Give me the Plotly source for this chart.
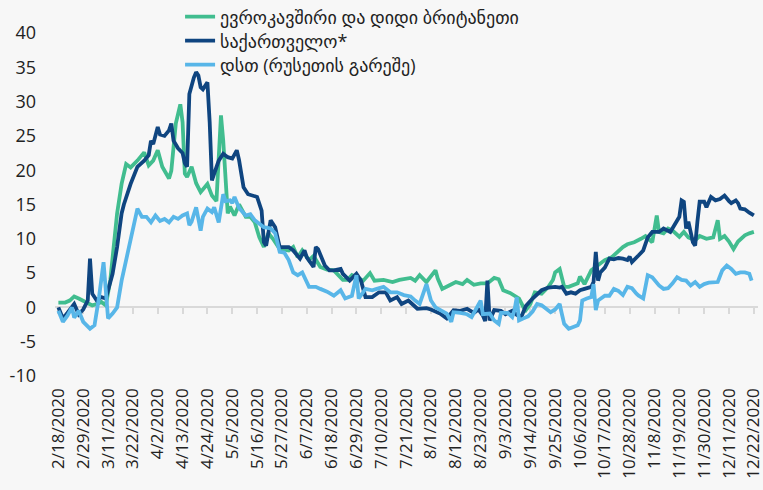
import pandas as pd
import plotly.graph_objects as go

START = "2020-02-18"

series_names = [
    "ევროკავშირი და დიდი ბრიტანეთი",
    "საქართველო*",
    "დსთ (რუსეთის გარეშე)",
]

# days since 2020-02-18 and values
eu_days = [0, 3, 5, 7, 9, 11, 13, 15, 17, 19, 21, 23, 26, 28, 30, 32, 35, 38, 40, 42,
           44, 46, 49, 50, 52, 54, 55, 56, 57, 59, 61, 63, 66, 68, 70, 72, 73, 75, 76, 78,
           80, 83, 85, 87, 89, 91, 93, 95, 98, 102, 104, 106, 108, 111, 113, 116, 119, 122, 124, 126,
           128, 130, 132, 135, 138, 140, 144, 148, 151, 154, 156, 158, 160, 163, 167, 168, 170, 173, 176, 179,
           181, 184, 187, 190, 193, 195, 197, 200, 202, 204, 206, 207, 209, 211, 214, 217, 219, 220, 222, 223,
           224, 226, 228, 230, 231, 233, 236, 239, 242, 245, 248, 250, 252, 255, 258, 260, 263, 265, 266, 268,
           270, 272, 275, 277, 279, 282, 284, 287, 290, 292, 293, 295, 297, 299, 301, 304, 306, 308]
eu_values = [0.7, 0.7, 1.0, 1.6, 1.3, 1.0, 0.6, 0.3, 0.5, 0.8, 0.3, 4.0, 13.7, 18.0, 20.9, 20.4, 21.4, 22.6, 20.7, 21.4,
             22.9, 20.5, 18.8, 19.9, 26.8, 29.6, 27.0, 19.5, 19.0, 20.5, 18.1, 16.8, 18.0, 16.3, 15.5, 28.0, 24.3, 13.7, 14.7, 13.4,
             15.0, 13.2, 13.2, 12.4, 10.2, 8.8, 10.8, 10.0, 8.5, 8.3, 8.8, 7.3, 8.3, 6.9, 7.5, 5.9, 5.5, 5.4, 4.7, 4.0,
             4.0, 4.7, 4.4, 3.9, 5.0, 3.9, 4.0, 3.7, 4.0, 4.2, 4.3, 3.9, 4.7, 3.7, 5.4, 4.2, 2.7, 3.2, 3.7, 3.4,
             4.0, 3.3, 3.5, 3.5, 4.3, 4.1, 2.5, 2.1, 1.7, 1.3, 0.0, -0.4, 0.5, 2.2, 2.0, 3.0, 4.0, 5.1, 5.6, 4.2,
             3.0, 3.0, 3.2, 3.5, 4.5, 3.4, 5.4, 6.1, 6.9, 7.3, 8.3, 8.8, 9.2, 9.5, 10.0, 10.4, 9.5, 13.4, 11.0, 10.8,
             11.5, 11.2, 10.3, 11.0, 10.2, 9.8, 10.4, 10.0, 10.2, 12.7, 10.0, 10.4, 9.6, 8.5, 9.6, 10.5, 10.8, 11.0]

geo_days = [0, 2, 4, 5, 7, 9, 11, 13, 14, 15, 17, 19, 21, 22, 24, 26, 28, 29, 32, 35,
            38, 40, 41, 42, 44, 45, 47, 49, 50, 51, 53, 55, 56, 57, 58, 60, 61, 62, 63, 64,
            66, 67, 68, 69, 71, 73, 75, 77, 79, 80, 82, 84, 86, 88, 90, 91, 92, 94, 96, 98,
            100, 102, 104, 107, 109, 110, 113, 114, 115, 118, 120, 122, 125, 126, 129, 132, 134, 136, 139, 142,
            145, 147, 150, 152, 155, 157, 159, 163, 165, 169, 172, 175, 178, 181, 184, 186, 188, 189, 190, 191,
            193, 196, 198, 201, 203, 205, 207, 210, 212, 214, 217, 220, 222, 223, 225, 227, 229, 231, 233, 236,
            237, 238, 239, 240, 242, 244, 246, 248, 250, 252, 253, 254, 257, 259, 261, 263, 266, 268, 271, 273,
            275, 276, 277, 278, 279, 281, 282, 283, 284, 286, 287, 289, 291, 293, 295, 297, 298, 300, 301, 302,
            304, 306, 308]
geo_values = [0.0, -1.6, -0.8, -0.4, 0.5, -1.0, -0.3, 1.0, 7.1, 2.0, 1.0, 1.5, 1.3, 2.5, 4.9, 8.8, 13.7, 15.0, 18.0, 20.5,
              21.4, 22.2, 24.3, 23.8, 26.3, 25.2, 25.0, 25.8, 26.8, 24.3, 23.2, 22.5, 21.0, 20.5, 31.1, 33.5, 34.3, 33.8, 32.1, 31.8,
              32.8, 27.0, 18.5, 19.5, 21.4, 22.4, 21.9, 21.7, 22.9, 21.5, 17.5, 16.5, 16.3, 16.1, 14.1, 9.5, 9.0, 12.7, 11.7, 8.8,
              8.8, 8.8, 8.3, 7.1, 8.3, 7.3, 5.9, 8.8, 8.5, 6.1, 5.4, 5.4, 5.6, 4.9, 3.9, 4.9, 3.9, 1.5, 1.5, 2.2,
              2.2, 1.0, 1.5, 0.5, 1.0, 0.3, -0.2, -0.1, -0.3, -0.9, -1.6, -0.4, -0.5, -0.2, -0.8, -0.3, -1.2, -2.0, 3.9, -1.9,
              -0.4, -0.5, -1.0, -0.5, -1.1, -1.4, 0.2, 1.3, 2.0, 2.5, 2.9, 3.0, 2.9, 3.0, 2.0, 2.2, 2.0, 2.5, 2.7, 3.0,
              3.7, 8.1, 3.9, 5.1, 5.8, 7.1, 7.0, 7.2, 7.1, 6.9, 7.4, 6.6, 7.6, 8.3, 10.2, 11.0, 11.0, 11.5, 11.0, 12.2,
              13.2, 15.6, 15.4, 11.5, 12.5, 9.5, 9.0, 12.5, 15.4, 15.4, 14.6, 16.1, 15.6, 15.8, 16.3, 15.5, 15.2, 15.6, 15.2, 14.4,
              14.3, 13.8, 13.4]

cis_days = [0, 2, 4, 6, 7, 9, 11, 14, 16, 18, 20, 21, 22, 24, 26, 28, 30, 32, 34, 35,
            37, 39, 41, 43, 45, 47, 49, 51, 53, 55, 57, 58, 59, 61, 63, 64, 66, 68, 69, 70,
            71, 73, 74, 76, 77, 78, 80, 83, 85, 87, 89, 91, 94, 96, 98, 100, 102, 104, 106, 108,
            111, 114, 116, 119, 122, 124, 125, 127, 130, 132, 133, 136, 139, 141, 144, 147, 150, 153, 156, 158,
            160, 163, 165, 167, 169, 172, 174, 175, 178, 181, 183, 185, 187, 188, 191, 193, 195, 196, 199, 201,
            202, 203, 204, 206, 208, 210, 212, 214, 216, 218, 220, 222, 223, 224, 226, 228, 230, 231, 232, 234,
            236, 237, 238, 239, 240, 242, 244, 246, 248, 250, 252, 254, 256, 257, 259, 261, 263, 266, 268, 270,
            272, 274, 276, 278, 280, 282, 284, 286, 288, 290, 292, 294, 296, 298, 300, 302, 304, 306, 307]
cis_values = [-0.5, -2.1, -1.2, 0.0, -1.5, -0.5, -2.1, -3.1, -2.6, 1.5, 6.6, 2.0, -1.6, -0.9, 0.0, 3.9, 6.9, 10.2, 13.2, 14.4,
              13.2, 13.2, 12.4, 13.4, 12.6, 12.9, 12.4, 13.2, 12.9, 13.4, 13.7, 12.0, 12.5, 14.6, 11.2, 13.2, 14.4, 13.9, 14.6, 13.7,
              12.4, 16.5, 15.5, 15.6, 15.2, 16.1, 14.5, 13.4, 13.6, 12.7, 12.2, 11.7, 11.5, 10.8, 8.1, 8.0, 6.9, 5.1, 4.7, 5.1,
              3.0, 3.0, 2.7, 2.3, 1.7, 2.2, 2.5, 1.3, 1.7, 4.7, 1.3, 2.7, 2.5, 2.7, 3.0, 2.2, 2.2, 1.8, 1.6, 1.0,
              0.5, 3.4, 1.0, 0.0, -0.4, -0.9, -2.1, -0.7, -0.8, -1.0, -1.4, -0.2, 1.0, -1.0, -0.9, -1.9, -2.4, -0.8, -0.8, -1.4,
              -0.4, 1.5, -1.9, -1.6, -1.3, -0.6, 0.5, 0.3, -0.2, -0.7, -0.3, 0.5, -1.0, -2.4, -3.1, -2.8, -2.6, -1.9, 1.0, 1.3,
              1.5, 3.4, -0.4, 1.0, 1.2, 1.7, 1.7, 2.7, 2.4, 1.8, 3.0, 2.8, 2.0, 1.7, 1.3, 4.7, 4.4, 3.2, 2.7, 2.8,
              3.5, 4.4, 4.0, 3.9, 3.2, 3.7, 3.0, 3.4, 3.6, 3.6, 3.7, 5.4, 6.1, 5.6, 4.9, 5.1, 5.1, 4.9, 3.9]

tick_labels = ["2/18/2020", "2/29/2020", "3/11/2020", "3/22/2020", "4/2/2020", "4/13/2020",
               "4/24/2020", "5/5/2020", "5/16/2020", "5/27/2020", "6/7/2020", "6/18/2020",
               "6/29/2020", "7/10/2020", "7/21/2020", "8/1/2020", "8/12/2020", "8/23/2020",
               "9/3/2020", "9/14/2020", "9/25/2020", "10/6/2020", "10/17/2020", "10/28/2020",
               "11/8/2020", "11/19/2020", "11/30/2020", "12/11/2020", "12/22/2020"]
y_ticks = [-10, -5, 0, 5, 10, 15, 20, 25, 30, 35, 40]
y_tick_labels = ["-10", "-5", "0", "5", "10", "15", "20", "25", "30", "35", "40"]

colors = ["#41bd8f", "#0f4580", "#58b6e8"]

start = pd.Timestamp(START)
def to_dates(days):
    return [start + pd.Timedelta(days=d) for d in days]

tick_vals = pd.to_datetime(tick_labels, format="%m/%d/%Y")
x_range = [start - pd.Timedelta(hours=36), tick_vals[-1] + pd.Timedelta(hours=44)]

fig = go.Figure()
fig.add_trace(go.Scatter(x=to_dates(eu_days), y=eu_values, name=series_names[0], mode="lines",
                         line=dict(color=colors[0], width=3.8), legend="legend"))
fig.add_trace(go.Scatter(x=to_dates(geo_days), y=geo_values, name=series_names[1], mode="lines",
                         line=dict(color=colors[1], width=3.8), legend="legend2"))
fig.add_trace(go.Scatter(x=to_dates(cis_days), y=cis_values, name=series_names[2], mode="lines",
                         line=dict(color=colors[2], width=3.8), xaxis="x2", legend="legend3"))

font_family = "Open Sans, DejaVu Sans, sans-serif"
legend_font = dict(size=18, color="#222222")
def legend_at(ypix):
    return dict(xref="container", yref="container", x=0.236, y=1 - ypix / 490,
                xanchor="left", yanchor="middle", bgcolor="rgba(0,0,0,0)",
                font=legend_font, itemwidth=30)

fig.update_layout(
    width=763, height=490,
    margin=dict(l=55, r=5, t=33, b=114, autoexpand=False),
    paper_bgcolor="#f7f7f7", plot_bgcolor="#f7f7f7",
    font=dict(family=font_family, color="#222222"),
    showlegend=True,
    legend=legend_at(17),
    legend2=legend_at(41),
    legend3=legend_at(65),
    xaxis=dict(type="date", range=x_range, tickvals=tick_vals, ticktext=tick_labels,
               tickangle=-90, showgrid=False, zeroline=False, showline=False, ticks="",
               tickfont=dict(size=17, color="#222222"), ticklabelstandoff=8,
               ticklabeloverflow="allow"),
    xaxis2=dict(type="date", range=x_range, overlaying="x", anchor="free", position=0.2,
                tickvals=tick_vals, showticklabels=False, showgrid=False, zeroline=False,
                showline=True, linecolor="#d9d9d9", linewidth=2, ticks="outside", ticklen=6,
                tickwidth=2, tickcolor="#d9d9d9", layer="below traces"),
    yaxis=dict(range=[-10, 40], tickvals=y_ticks, ticktext=y_tick_labels, showgrid=False,
               zeroline=False, showline=False, ticks="", tickfont=dict(size=18, color="#222222"),
               ticklabelstandoff=18),
)

fig.write_html("out.html", config={"displayModeBar": False},
               post_script="document.body.style.margin='0';document.body.style.background='#f7f7f7';")
